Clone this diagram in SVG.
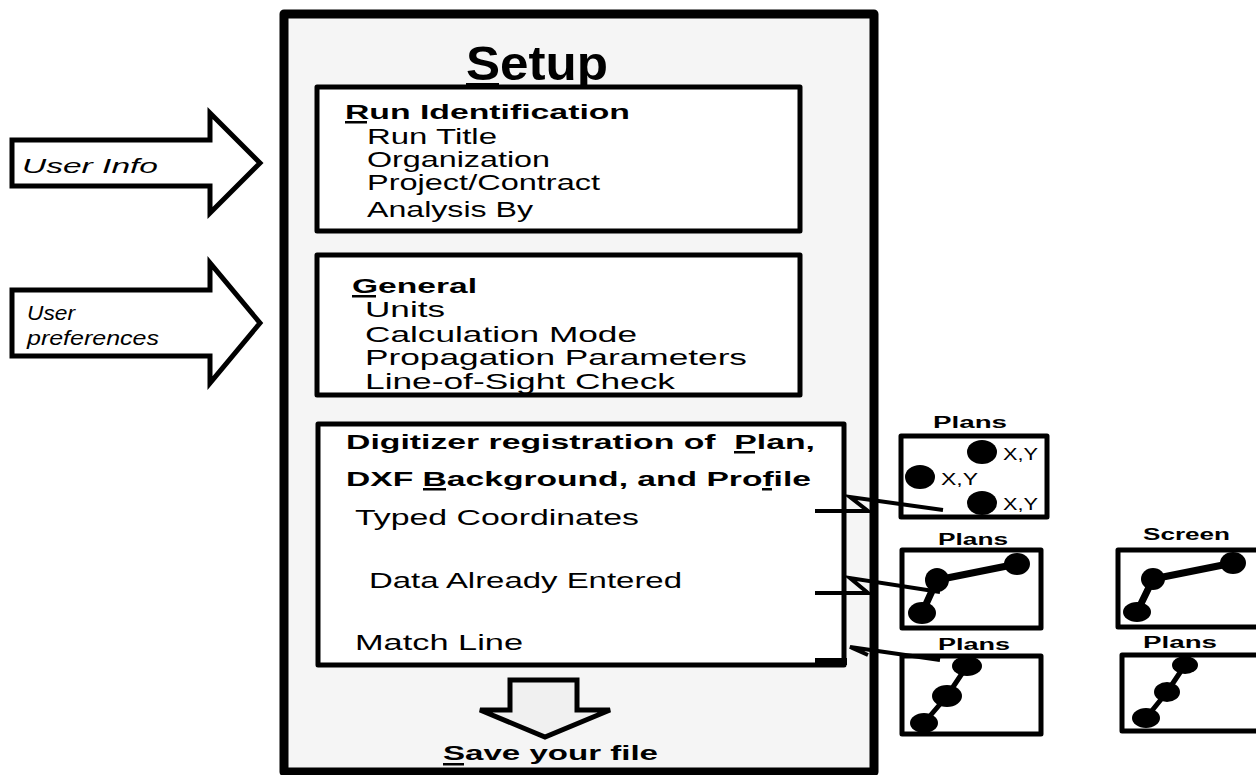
<svg xmlns="http://www.w3.org/2000/svg" width="1256" height="775" viewBox="0 0 1256 775">
<style>
text{font-family:"Liberation Sans",Arial,sans-serif;fill:#000}
.b{font-weight:bold}
.t{font-size:22px}
.h{font-size:21px;font-weight:bold}
.i{font-style:italic;font-size:21px}
.s{font-size:16px}
.box{fill:#fff;stroke:#000;stroke-width:5;stroke-linejoin:round}
.pl{fill:#fff;stroke:#000;stroke-width:5;stroke-linejoin:round}
.arr{fill:#fff;stroke:#000;stroke-width:5;stroke-linejoin:miter}
.con{fill:none;stroke:#000;stroke-width:4;stroke-linejoin:miter}
.ln{stroke:#000;stroke-width:7;stroke-linecap:round}
.ln2{stroke:#000;stroke-width:5;stroke-linecap:round}
</style>
<rect width="1256" height="775" fill="#fff"/>
<g id="setup">
<rect x="284" y="14" width="590" height="758" fill="#f5f5f5" stroke="#000" stroke-width="9" stroke-linejoin="round"/>
<text class="b" x="466" y="80" font-size="48" textLength="142" lengthAdjust="spacingAndGlyphs">Setup</text>
<rect x="466" y="83" width="33" height="3"/>
</g>
<g id="run-identification">
<rect class="box" x="317" y="87" width="483" height="144"/>
<text class="h" x="345" y="119" textLength="285" lengthAdjust="spacingAndGlyphs">Run Identification</text>
<rect x="345" y="121" width="22" height="2.5"/>
<text class="t" x="367" y="143.5" textLength="130" lengthAdjust="spacingAndGlyphs">Run Title</text>
<text class="t" x="367" y="167" textLength="183" lengthAdjust="spacingAndGlyphs">Organization</text>
<text class="t" x="367" y="190" textLength="233" lengthAdjust="spacingAndGlyphs">Project/Contract</text>
<text class="t" x="367" y="217" textLength="166" lengthAdjust="spacingAndGlyphs">Analysis By</text>
</g>
<g id="general">
<rect class="box" x="317" y="255" width="483" height="140"/>
<text class="h" x="352" y="293" textLength="125" lengthAdjust="spacingAndGlyphs">General</text>
<rect x="352" y="295" width="24" height="2.5"/>
<text class="t" x="365" y="317" textLength="80" lengthAdjust="spacingAndGlyphs">Units</text>
<text class="t" x="365" y="342" textLength="272" lengthAdjust="spacingAndGlyphs">Calculation Mode</text>
<text class="t" x="365" y="365" textLength="382" lengthAdjust="spacingAndGlyphs">Propagation Parameters</text>
<text class="t" x="365" y="389" textLength="310" lengthAdjust="spacingAndGlyphs">Line-of-Sight Check</text>
</g>
<g id="digitizer">
<rect class="box" x="318" y="424" width="526" height="241"/>
<text class="h" x="346" y="449" textLength="469" lengthAdjust="spacingAndGlyphs" xml:space="preserve">Digitizer registration of  Plan,</text>
<rect x="734" y="451" width="21" height="2.5"/>
<text class="h" x="346" y="486" textLength="465" lengthAdjust="spacingAndGlyphs">DXF Background, and Profile</text>
<rect x="423" y="488" width="23" height="2.5"/>
<rect x="762" y="488" width="10" height="2.5"/>
<text class="t" x="355" y="525" textLength="284" lengthAdjust="spacingAndGlyphs">Typed Coordinates</text>
<text class="t" x="369" y="588" textLength="313" lengthAdjust="spacingAndGlyphs">Data Already Entered</text>
<text class="t" x="355" y="650" textLength="168" lengthAdjust="spacingAndGlyphs">Match Line</text>
</g>
<g id="user-info">
<polygon class="arr" points="12,140 210,140 210,113 260,163 210,213 210,186 12,186"/>
<text class="i" x="22" y="173" textLength="136" lengthAdjust="spacingAndGlyphs">User Info</text>
</g>
<g id="user-preferences">
<polygon class="arr" points="12,290 210,290 210,263 260,323 210,383 210,356 12,356"/>
<text class="i" x="27" y="320" font-size="20" textLength="48" lengthAdjust="spacingAndGlyphs">User</text>
<text class="i" x="27" y="345" font-size="20" textLength="132" lengthAdjust="spacingAndGlyphs">preferences</text>
</g>
<g id="save">
<polygon class="arr" style="fill:#f0f0f0" points="510,680 577,680 577,710 610,710 545,737 480,710 510,710"/>
<text class="h" x="443" y="760" textLength="215" lengthAdjust="spacingAndGlyphs">Save your file</text>
<rect x="443" y="763" width="21" height="2.5"/>
</g>
<g id="plans-xy">
<text class="b s" x="933" y="428" textLength="74" lengthAdjust="spacingAndGlyphs">Plans</text>
<rect class="pl" x="901" y="436" width="146" height="81" stroke-width="6"/>
<ellipse cx="982" cy="452" rx="15" ry="12"/>
<ellipse cx="920" cy="477" rx="15" ry="12"/>
<ellipse cx="982" cy="503" rx="15" ry="12"/>
<text class="s" x="1003" y="460" textLength="35" lengthAdjust="spacingAndGlyphs">X,Y</text>
<text class="s" x="941" y="485" textLength="37" lengthAdjust="spacingAndGlyphs">X,Y</text>
<text class="s" x="1003" y="510" textLength="35" lengthAdjust="spacingAndGlyphs">X,Y</text>
</g>
<g id="plans-data">
<text class="b s" x="938" y="545" textLength="70" lengthAdjust="spacingAndGlyphs">Plans</text>
<rect class="pl" x="902" y="550" width="139" height="78"/>
<line class="ln" x1="937" y1="580" x2="1017" y2="564"/>
<line class="ln" x1="937" y1="580" x2="922" y2="613"/>
<ellipse cx="937" cy="580" rx="12" ry="12"/>
<ellipse cx="1017" cy="564" rx="13" ry="11"/>
<ellipse cx="922" cy="613" rx="14" ry="11"/>
</g>
<g id="screen">
<text class="b s" x="1143" y="540" textLength="87" lengthAdjust="spacingAndGlyphs">Screen</text>
<rect class="pl" x="1118" y="550" width="150" height="77"/>
<line class="ln" x1="1153" y1="579" x2="1233" y2="563"/>
<line class="ln" x1="1153" y1="579" x2="1137" y2="612"/>
<ellipse cx="1233" cy="563" rx="13" ry="11"/>
<ellipse cx="1153" cy="579" rx="12" ry="11"/>
<ellipse cx="1137" cy="612" rx="14" ry="10"/>
</g>
<g id="plans-match">
<text class="b s" x="938" y="650" textLength="72" lengthAdjust="spacingAndGlyphs">Plans</text>
<rect class="pl" x="902" y="656" width="139" height="78"/>
<line class="ln2" x1="967" y1="666" x2="947" y2="696"/>
<line class="ln2" x1="947" y1="696" x2="924" y2="723"/>
<ellipse cx="967" cy="666" rx="15" ry="10"/>
<ellipse cx="947" cy="696" rx="15" ry="11"/>
<ellipse cx="924" cy="723" rx="14" ry="10"/>
</g>
<g id="plans-match-2">
<text class="b s" x="1143" y="648" textLength="74" lengthAdjust="spacingAndGlyphs">Plans</text>
<rect class="pl" x="1122" y="655" width="150" height="76"/>
<line class="ln2" x1="1185" y1="665" x2="1167" y2="692"/>
<line class="ln2" x1="1167" y1="692" x2="1146" y2="718"/>
<ellipse cx="1185" cy="665" rx="13" ry="9"/>
<ellipse cx="1167" cy="692" rx="13" ry="10"/>
<ellipse cx="1146" cy="718" rx="14" ry="10"/>
</g>
<g id="connectors">
<polyline class="con" points="815,511 868,511 850,497 943,510"/>
<polyline class="con" points="815,593 868,593 850,578 940,592"/>
<rect x="815" y="658" width="32" height="7"/>
<polyline class="con" points="868,655 850,647 940,660"/>
</g>
</svg>
